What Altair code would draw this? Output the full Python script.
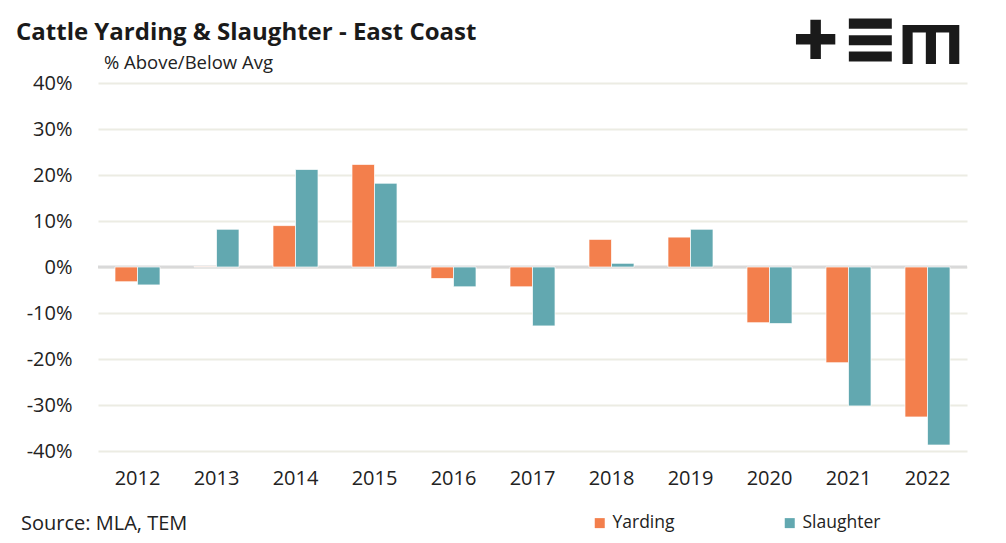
import altair as alt
import pandas as pd

years = ["2012", "2013", "2014", "2015", "2016", "2017", "2018", "2019", "2020", "2021", "2022"]
yarding = [-3.2, 0.1, 9.0, 22.3, -2.5, -4.3, 6.0, 6.5, -12.1, -20.8, -32.6]
slaughter = [-3.9, 8.2, 21.2, 18.2, -4.3, -12.8, 0.8, 8.2, -12.3, -30.2, -38.7]
series = ["Yarding", "Slaughter"]
colors = ["#F37F4C", "#62A8B0"]
y_ticks = [-40, -30, -20, -10, 0, 10, 20, 30, 40]

TITLE = "Cattle Yarding & Slaughter - East Coast"
YLABEL = "% Above/Below Avg"
SOURCE = "Source: MLA, TEM"
LOGO_PARTS = ["✚", "☰", "Ш"]

rows = []
for i, yr in enumerate(years):
    rows.append({"Year": yr, "Series": "Yarding", "Value": yarding[i]})
    rows.append({"Year": yr, "Series": "Slaughter", "Value": slaughter[i]})
df = pd.DataFrame(rows)

FONT = "Open Sans"

bars = alt.Chart(df).mark_bar(stroke="#ffffff", strokeWidth=1, strokeOpacity=0.7).encode(
    x=alt.X("Year:N", sort=years,
            scale=alt.Scale(paddingInner=0.43, paddingOuter=0.215),
            axis=alt.Axis(title=None, labelAngle=0, domain=False, ticks=False,
                          labelPadding=17, labelFontSize=20, labelColor="#222222",
                          labelFont=FONT, grid=False)),
    xOffset=alt.XOffset("Series:N", sort=series),
    y=alt.Y("Value:Q",
            scale=alt.Scale(domain=[-40, 40], nice=False),
            axis=alt.Axis(title=None, values=y_ticks, labelExpr="datum.value + '%'",
                          domain=False, ticks=False, labelPadding=26, labelFontSize=20,
                          labelColor="#222222", labelFont=FONT, grid=True,
                          gridColor="#ECECE3", gridWidth=2)),
    color=alt.Color("Series:N", sort=series,
                    scale=alt.Scale(domain=series, range=colors),
                    legend=alt.Legend(title=None, orient="none", legendX=493, legendY=431,
                                      direction="horizontal", symbolType="square",
                                      symbolSize=100, symbolStrokeWidth=0,
                                      labelFontSize=17.5, labelFont=FONT, labelColor="#222222",
                                      columnPadding=106, labelOffset=4)),
)

zero = alt.Chart(pd.DataFrame({"y": [0]})).mark_rule(color="#D9D9D9", strokeWidth=3).encode(
    y="y:Q"
)

title = alt.Chart(pd.DataFrame({"t": [TITLE]})).mark_text(
    align="left", baseline="alphabetic", fontSize=24, fontWeight="bold", font=FONT,
    color="#1a1a1a"
).encode(text="t:N", x=alt.value(-82), y=alt.value(-43))

ylabel = alt.Chart(pd.DataFrame({"t": [YLABEL]})).mark_text(
    align="left", baseline="alphabetic", fontSize=18.5, font=FONT, color="#222222"
).encode(text="t:N", x=alt.value(6), y=alt.value(-14))

source = alt.Chart(pd.DataFrame({"t": [SOURCE]})).mark_text(
    align="left", baseline="alphabetic", fontSize=20, font=FONT, color="#222222"
).encode(text="t:N", x=alt.value(-77), y=alt.value(447))

logo_plus = alt.Chart(pd.DataFrame({"t": [LOGO_PARTS[0]]})).mark_text(
    align="center", baseline="middle", fontSize=54,
    font="DejaVu Sans", color="#1a1a1a"
).encode(text="t:N", x=alt.value(717.5), y=alt.value(-40.5))

logo_xi = alt.Chart(pd.DataFrame({"t": [LOGO_PARTS[1]]})).mark_text(
    align="center", baseline="middle", fontSize=52,
    font="DejaVu Sans", color="#1a1a1a", stroke="#1a1a1a", strokeWidth=5
).encode(text="t:N", x=alt.value(772.5), y=alt.value(-40.5))

logo_m = alt.Chart(pd.DataFrame({"t": [LOGO_PARTS[2]]})).mark_text(
    align="center", baseline="middle", fontSize=54, fontWeight="bold", angle=180,
    font="DejaVu Sans", color="#1a1a1a"
).encode(text="t:N", x=alt.value(833), y=alt.value(-42.5))

chart = alt.layer(zero, bars, title, ylabel, source, logo_plus, logo_xi, logo_m).properties(
    width=869, height=368,
    autosize=alt.AutoSizeParams(type="none"),
    padding={"left": 90, "top": 75, "right": 31, "bottom": 84},
).configure_view(stroke=None)

chart.save("out.html", embed_options={"renderer": "svg", "actions": False})
